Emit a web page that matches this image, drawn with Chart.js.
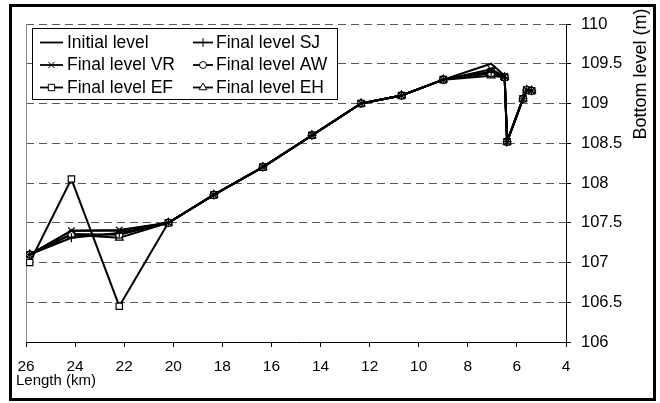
<!DOCTYPE html>
<html>
<head>
<meta charset="utf-8">
<script src="https://cdn.jsdelivr.net/npm/chart.js@4/dist/chart.umd.min.js"></script>
<style>
  html, body { margin: 0; padding: 0; background: #fff; }
  #wrap { width: 660px; height: 403px; }
</style>
</head>
<body>
<div id="wrap"><canvas id="c" width="660" height="403"></canvas></div>
<script>
// Chainage along the reach (km) of each surveyed section
const lengthKm = [25.85, 24.15, 22.2, 20.2, 18.35, 16.35, 14.35, 12.35, 10.7, 9.0, 7.05, 6.5, 6.4, 5.75, 5.6, 5.4];

// Bed levels (m) per scenario
const initialLevel = [107.1, 107.4, 107.4, 107.5, 107.85, 108.2, 108.6, 109.0, 109.1, 109.3, 109.5, 109.35, 108.52, 109.06, 109.17, 109.16];
const finalSJ      = [107.1, 107.31, 107.37, 107.5, 107.85, 108.2, 108.6, 109.0, 109.1, 109.3, 109.4, 109.33, 108.52, 109.06, 109.17, 109.16];
const finalVR      = [107.1, 107.4, 107.41, 107.5, 107.85, 108.2, 108.6, 109.0, 109.1, 109.3, 109.43, 109.34, 108.52, 109.06, 109.17, 109.16];
const finalAW      = [107.1, 107.36, 107.35, 107.5, 107.85, 108.2, 108.6, 109.0, 109.1, 109.3, 109.38, 109.33, 108.52, 109.06, 109.17, 109.16];
const finalEF      = [107.0, 108.05, 106.45, 107.5, 107.85, 108.2, 108.6, 109.0, 109.1, 109.3, 109.4, 109.33, 108.52, 109.06, 109.17, 109.16];
const finalEH      = [107.1, 107.35, 107.31, 107.5, 107.85, 108.2, 108.6, 109.0, 109.1, 109.3, 109.35, 109.33, 108.52, 109.06, 109.17, 109.16];

// Axis ticks
const xTicks = [26, 24, 22, 20, 18, 16, 14, 12, 10, 8, 6, 4];
const yTicks = [106, 106.5, 107, 107.5, 108, 108.5, 109, 109.5, 110];

const seriesNames = ['Initial level', 'Final level SJ', 'Final level VR', 'Final level AW', 'Final level EF', 'Final level EH'];
const seriesValues = [initialLevel, finalSJ, finalVR, finalAW, finalEF, finalEH];
const seriesMarkers = [false, 'cross', 'crossRot', 'circle', 'rect', 'triangle'];
const markerRadius = [0, 4.5, 4.5, 3.5, 4.5, 4.5];

const FONT = '"Liberation Sans", Arial, sans-serif';

const datasets = seriesNames.map((name, i) => ({
  label: name,
  data: lengthKm.map((x, j) => ({ x: x, y: seriesValues[i][j] })),
  borderColor: '#000',
  borderWidth: 2,
  pointStyle: seriesMarkers[i],
  pointRadius: markerRadius[i],
  pointHoverRadius: markerRadius[i],
  pointBackgroundColor: '#fff',
  pointBorderColor: '#000',
  pointBorderWidth: 1.2,
  tension: 0,
  fill: false
}));

function drawMarker(ctx, style, r, x, y) {
  if (!style) return;
  const opts = { pointStyle: style, radius: r, borderWidth: 1, rotation: 0 };
  ctx.save();
  ctx.strokeStyle = '#000';
  ctx.fillStyle = '#fff';
  ctx.lineWidth = 1;
  if (Chart.helpers && Chart.helpers.drawPoint) {
    Chart.helpers.drawPoint(ctx, opts, x, y);
  }
  ctx.restore();
}

const decor = {
  id: 'decor',
  beforeDraw(chart) {
    const ctx = chart.ctx;
    ctx.save();
    ctx.fillStyle = '#fff';
    ctx.fillRect(0, 0, chart.width, chart.height);
    ctx.restore();
  },
  beforeDatasetsDraw(chart) {
    const { ctx, chartArea: a } = chart;
    ctx.save();
    ctx.strokeStyle = '#8c8c8c';
    ctx.lineWidth = 1;
    ctx.beginPath();
    ctx.moveTo(a.left + 0.5, a.top);
    ctx.lineTo(a.left + 0.5, a.bottom);
    ctx.stroke();
    ctx.restore();
  },
  afterDraw(chart) {
    const ctx = chart.ctx;
    ctx.save();
    // outer frame
    ctx.strokeStyle = '#000';
    ctx.lineWidth = 3;
    ctx.strokeRect(10.5, 5.5, 644, 394);

    // axis titles
    ctx.fillStyle = '#000';
    ctx.font = '15px ' + FONT;
    ctx.textAlign = 'left';
    ctx.textBaseline = 'middle';
    ctx.fillText('Length (km)', 16, 381);

    ctx.save();
    ctx.translate(641, 74);
    ctx.rotate(-Math.PI / 2);
    ctx.textAlign = 'center';
    ctx.font = '18px ' + FONT;
    ctx.fillText('Bottom level (m)', 0, 0);
    ctx.restore();

    // legend box
    ctx.fillStyle = '#fff';
    ctx.fillRect(32, 28, 305, 71);
    ctx.strokeStyle = '#000';
    ctx.lineWidth = 1;
    ctx.strokeRect(32.5, 28.5, 305, 71);

    const cols = [{ x0: 40, x1: 63, tx: 67 }, { x0: 193, x1: 213, tx: 216 }];
    const rows = [42, 64.5, 87];
    ctx.font = '17.5px ' + FONT;
    ctx.textBaseline = 'middle';
    ctx.textAlign = 'left';
    seriesNames.forEach((name, i) => {
      const c = cols[i % 2];
      const y = rows[Math.floor(i / 2)];
      ctx.strokeStyle = '#000';
      ctx.lineWidth = 1.8;
      ctx.beginPath();
      ctx.moveTo(c.x0, y + 0.5);
      ctx.lineTo(c.x1, y + 0.5);
      ctx.stroke();
      drawMarker(ctx, seriesMarkers[i], markerRadius[i], (c.x0 + c.x1) / 2, y + 0.5);
      ctx.fillStyle = '#000';
      ctx.fillText(name, c.tx, y + 1);
    });
    ctx.restore();
  }
};

new Chart(document.getElementById('c'), {
  type: 'line',
  data: { datasets: datasets },
  options: {
    responsive: false,
    animation: false,
    events: [],
    layout: { padding: { left: 26, top: 24, right: 0, bottom: 0 } },
    plugins: { legend: { display: false }, tooltip: { enabled: false } },
    scales: {
      x: {
        type: 'linear',
        position: 'bottom',
        reverse: true,
        min: 4,
        max: 26,
        afterBuildTicks(scale) { scale.ticks = xTicks.map(v => ({ value: v })); },
        afterFit(scale) { scale.height = 61; },
        ticks: {
          color: '#000',
          font: { family: FONT, size: 15.5 },
          padding: 10,
          maxRotation: 0,
          autoSkip: false,
          callback: (v) => String(v)
        },
        grid: { display: true, drawOnChartArea: false, drawTicks: true, tickLength: 5, color: '#000', tickColor: '#000' },
        border: { display: true, color: '#000', width: 1 }
      },
      y: {
        type: 'linear',
        position: 'right',
        min: 106,
        max: 110,
        afterBuildTicks(scale) { scale.ticks = yTicks.map(v => ({ value: v })); },
        afterFit(scale) { scale.width = 94; },
        ticks: {
          color: '#000',
          font: { family: FONT, size: 16.5 },
          padding: 10,
          autoSkip: false,
          callback: (v) => String(v)
        },
        grid: {
          display: true,
          drawOnChartArea: true,
          drawTicks: true,
          tickLength: 5,
          color: (c) => (c.tick && c.tick.value === 106) ? 'rgba(0,0,0,0)' : '#5a5a5a',
          tickColor: '#000',
          tickBorderDash: []
        },
        border: { display: true, color: '#000', width: 1, dash: [8, 5] }
      }
    }
  },
  plugins: [decor]
});
</script>
</body>
</html>
